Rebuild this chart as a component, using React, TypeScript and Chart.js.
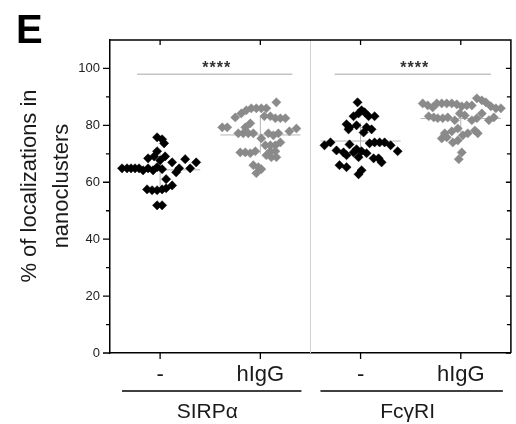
import React, { useEffect, useRef } from 'react';
import { Chart, registerables } from 'chart.js';

Chart.register(...registerables);

// ---- Data ----
const conditionLabels = ['-', 'hIgG', '-', 'hIgG'];
const receptorLabels = ['SIRPα', 'FcγRI'];
const yTickValues = [0, 20, 40, 60, 80, 100];
const significance = ['****', '****'];

const sirpCtrlValues = [64.9, 64.9, 64.9, 64.9, 64.9, 64.2, 64.9, 64.2, 65.3, 64.6, 68.4, 69.1, 67.7, 69.1, 67.0, 68.1, 67.0, 64.9, 64.9, 63.5, 70.9, 75.8, 75.1, 73.7, 61.1, 58.9, 57.5, 57.2, 57.2, 57.5, 57.9, 51.9, 51.9];
const sirpCtrlJitter = [-0.38, -0.33, -0.29, -0.25, -0.21, -0.17, -0.12, -0.07, -0.03, 0.02, -0.12, -0.06, 0, 0.05, 0.12, 0.25, 0.36, 0.30, 0.19, 0.16, -0.03, -0.03, 0.02, 0.04, 0.06, 0.12, -0.13, -0.08, -0.03, 0.02, 0.06, -0.03, 0.02];

const sirpIgGValues = [88.1, 84.2, 85.3, 86.0, 86.0, 86.0, 86.0, 82.8, 79.3, 79.3, 80.7, 79.3, 83.2, 83.2, 82.5, 82.5, 82.5, 77.2, 77.2, 77.2, 77.2, 77.2, 76.5, 77.2, 77.9, 78.9, 75.4, 73.0, 73.0, 73.0, 74.0, 70.9, 70.9, 70.5, 70.5, 70.2, 70.9, 69.5, 68.8, 68.8, 66.0, 65.3, 64.6, 63.2];
const sirpIgGJitter = [0.16, -0.19, -0.14, -0.09, -0.04, 0.01, 0.06, -0.25, -0.33, -0.38, -0.10, -0.15, 0.04, 0.10, 0.15, 0.20, 0.25, -0.22, -0.17, -0.12, -0.07, 0.08, 0.13, 0.18, 0.29, 0.36, 0.01, 0.05, 0.10, 0.15, 0.20, 0.10, 0.15, -0.20, -0.15, -0.10, -0.05, 0.06, 0.11, 0.16, -0.07, -0.02, 0.01, -0.04];

const fcCtrlValues = [88.1, 85.3, 84.6, 84.2, 83.2, 83.2, 83.2, 80.4, 79.3, 80.0, 78.6, 79.3, 78.6, 77.5, 73.0, 74.0, 73.3, 73.7, 74.0, 74.0, 74.0, 73.0, 71.2, 70.5, 70.5, 71.6, 70.9, 70.2, 70.9, 69.5, 68.8, 68.4, 68.4, 66.0, 65.3, 67.0, 64.2, 62.8];
const fcCtrlJitter = [-0.03, 0.01, 0.04, -0.02, -0.07, 0.08, 0.14, -0.14, -0.11, -0.04, -0.12, 0.06, 0.11, 0.03, -0.36, -0.30, -0.11, 0.09, 0.14, 0.19, 0.24, 0.30, -0.24, -0.17, -0.07, -0.04, 0.01, 0.06, 0.37, -0.14, -0.02, 0.13, 0.18, -0.21, -0.14, 0.21, 0.01, -0.02];

const fcIgGValues = [87.7, 87.0, 86.3, 87.7, 87.7, 87.7, 87.7, 87.4, 86.7, 87.0, 87.0, 89.5, 88.8, 88.1, 86.7, 86.0, 86.0, 83.2, 82.8, 82.5, 82.5, 82.8, 81.8, 84.2, 83.5, 81.8, 82.5, 84.2, 81.8, 82.8, 77.2, 77.9, 78.9, 76.5, 77.2, 78.2, 77.2, 75.4, 75.8, 74.0, 74.7, 70.5, 68.1];
const fcIgGJitter = [-0.38, -0.33, -0.28, -0.24, -0.19, -0.14, -0.09, -0.04, 0.01, 0.06, 0.11, 0.16, 0.21, 0.25, 0.30, 0.35, 0.40, -0.32, -0.27, -0.23, -0.18, -0.13, -0.06, -0.01, 0.04, 0.11, 0.16, 0.21, 0.28, 0.33, -0.16, -0.09, -0.03, 0.02, 0.07, 0.14, 0.17, -0.19, -0.14, -0.08, -0.03, 0.01, -0.02];

const groupValues = [sirpCtrlValues, sirpIgGValues, fcCtrlValues, fcIgGValues];
const groupJitter = [sirpCtrlJitter, sirpIgGJitter, fcCtrlJitter, fcIgGJitter];
const groupColors = ['#000000', '#8a8a8a', '#000000', '#8a8a8a'];

const FONT = '"Liberation Sans", Arial, sans-serif';

function mean(a: number[]) {
  return a.reduce((s, v) => s + v, 0) / a.length;
}
function stdev(a: number[]) {
  const m = mean(a);
  return Math.sqrt(a.reduce((s, v) => s + (v - m) * (v - m), 0) / (a.length - 1));
}

const decorPlugin = {
  id: 'decor',
  beforeDatasetsDraw(chart: any) {
    const { ctx, chartArea: a, scales } = chart;
    const x = scales.x;
    const y = scales.y;
    ctx.save();
    // separator between receptors
    const sx = Math.round(x.getPixelForValue(2.5)) + 0.5;
    ctx.strokeStyle = '#d2d2d2';
    ctx.lineWidth = 1;
    ctx.beginPath();
    ctx.moveTo(sx, a.top);
    ctx.lineTo(sx, a.bottom);
    ctx.stroke();
    // mean and SD lines
    ctx.strokeStyle = '#b4b4b4';
    ctx.lineWidth = 1;
    groupValues.forEach((vals, i) => {
      const pos = i + 1;
      const m = mean(vals);
      const sd = stdev(vals);
      ctx.beginPath();
      ctx.moveTo(x.getPixelForValue(pos - 0.4), y.getPixelForValue(m));
      ctx.lineTo(x.getPixelForValue(pos + 0.4), y.getPixelForValue(m));
      ctx.moveTo(x.getPixelForValue(pos), y.getPixelForValue(m - sd));
      ctx.lineTo(x.getPixelForValue(pos), y.getPixelForValue(m + sd));
      ctx.stroke();
    });
    ctx.restore();
  },
  afterDraw(chart: any) {
    const { ctx, chartArea: a, scales } = chart;
    const x = scales.x;
    const y = scales.y;
    ctx.save();
    ctx.strokeStyle = '#000';
    ctx.lineWidth = 1.5;
    // frame top & right
    ctx.beginPath();
    ctx.moveTo(a.left, a.top);
    ctx.lineTo(a.right, a.top);
    ctx.lineTo(a.right, a.bottom);
    ctx.stroke();
    // x ticks (bottom outward, top inward)
    ctx.lineWidth = 1.3;
    for (let p = 1; p <= conditionLabels.length; p++) {
      const px = x.getPixelForValue(p);
      ctx.beginPath();
      ctx.moveTo(px, a.bottom);
      ctx.lineTo(px, a.bottom + 6);
      ctx.moveTo(px, a.top);
      ctx.lineTo(px, a.top + 5);
      ctx.stroke();
    }
    // y ticks: left outward, right inward
    for (let v = 0; v <= 100; v += 10) {
      const py = y.getPixelForValue(v);
      const major = yTickValues.includes(v);
      ctx.beginPath();
      ctx.moveTo(a.left, py);
      ctx.lineTo(a.left - (major ? 7 : 4), py);
      ctx.moveTo(a.right, py);
      ctx.lineTo(a.right - (major ? 5 : 4), py);
      ctx.stroke();
    }
    // significance bars
    const sigSpans = [[0.77, 2.32], [2.74, 4.3]];
    sigSpans.forEach((s, i) => {
      const py = y.getPixelForValue(98);
      ctx.strokeStyle = '#c4c4c4';
      ctx.lineWidth = 1.5;
      ctx.beginPath();
      ctx.moveTo(x.getPixelForValue(s[0]), py);
      ctx.lineTo(x.getPixelForValue(s[1]), py);
      ctx.stroke();
      ctx.fillStyle = '#333';
      ctx.font = `bold 16px ${FONT}`;
      (ctx as any).letterSpacing = '1px';
      ctx.textAlign = 'center';
      ctx.textBaseline = 'alphabetic';
      ctx.fillText(significance[i], (x.getPixelForValue(s[0]) + x.getPixelForValue(s[1])) / 2 + 2, py - 1);
      (ctx as any).letterSpacing = '0px';
    });
    // receptor group underlines and labels
    const groupSpans = [[0.62, 2.41], [2.6, 4.42]];
    ctx.strokeStyle = '#000';
    ctx.lineWidth = 1.5;
    groupSpans.forEach((s, i) => {
      const ly = a.bottom + 38;
      ctx.beginPath();
      ctx.moveTo(x.getPixelForValue(s[0]), ly);
      ctx.lineTo(x.getPixelForValue(s[1]), ly);
      ctx.stroke();
      ctx.fillStyle = '#1a1a1a';
      ctx.font = `21px ${FONT}`;
      ctx.textAlign = 'center';
      ctx.textBaseline = 'alphabetic';
      ctx.fillText(receptorLabels[i], x.getPixelForValue(i * 2 + 1.47), a.bottom + 65);
    });
    // y axis title
    ctx.save();
    ctx.translate(0, 186);
    ctx.rotate(-Math.PI / 2);
    ctx.fillStyle = '#1a1a1a';
    ctx.font = `22px ${FONT}`;
    ctx.textAlign = 'center';
    ctx.textBaseline = 'alphabetic';
    ctx.fillText('% of localizations in', 0, 36);
    ctx.fillText('nanoclusters', 0, 68);
    ctx.restore();
    // panel letter
    ctx.fillStyle = '#000';
    ctx.font = `bold 40px ${FONT}`;
    ctx.textAlign = 'left';
    ctx.textBaseline = 'alphabetic';
    ctx.fillText('E', 16, 43);
    ctx.restore();
  },
};

export default function App() {
  const ref = useRef<HTMLCanvasElement | null>(null);

  useEffect(() => {
    document.body.style.margin = '0';
    document.body.style.overflow = 'hidden';
    const canvas = ref.current;
    if (!canvas) return;
    const datasets = groupValues.map((vals, gi) => ({
      label: `${receptorLabels[Math.floor(gi / 2)]} ${conditionLabels[gi]}`,
      data: vals.map((v, i) => ({ x: gi + 1 + groupJitter[gi][i], y: v })),
      pointStyle: 'rectRot' as const,
      pointRadius: 4.6,
      pointBackgroundColor: groupColors[gi],
      pointBorderColor: groupColors[gi],
      pointBorderWidth: 0.5,
      showLine: false,
    }));
    const chart = new Chart(canvas, {
      type: 'scatter',
      data: { datasets },
      options: {
        responsive: false,
        animation: false,
        devicePixelRatio: 1,
        layout: { padding: { top: 40, right: 1, left: 0, bottom: 0 } },
        plugins: {
          legend: { display: false },
          tooltip: { enabled: false },
        },
        scales: {
          x: {
            type: 'linear',
            min: 0.5,
            max: 4.5,
            afterBuildTicks: (scale: any) => {
              scale.ticks = conditionLabels.map((_, i) => ({ value: i + 1 }));
            },
            afterFit: (scale: any) => {
              scale.height = 71;
            },
            ticks: {
              autoSkip: false,
              maxRotation: 0,
              padding: 9,
              color: '#1a1a1a',
              font: { family: FONT, size: 22 },
              callback: (v: any) => conditionLabels[Math.round(Number(v)) - 1] ?? '',
            },
            grid: { display: false, drawTicks: false },
            border: { display: true, color: '#000', width: 1.5 },
          },
          y: {
            type: 'linear',
            min: 0,
            max: 110,
            afterFit: (scale: any) => {
              scale.width = 110;
            },
            ticks: {
              stepSize: 10,
              autoSkip: false,
              padding: 10,
              color: '#222',
              font: { family: FONT, size: 13 },
              callback: (v: any) => (yTickValues.includes(Number(v)) ? String(v) : ''),
            },
            grid: { display: false, drawTicks: false },
            border: { display: true, color: '#000', width: 1.5 },
          },
        },
      },
      plugins: [decorPlugin],
    });
    return () => chart.destroy();
  }, []);

  return <canvas ref={ref} width={516} height={424} style={{ display: 'block' }} />;
}
